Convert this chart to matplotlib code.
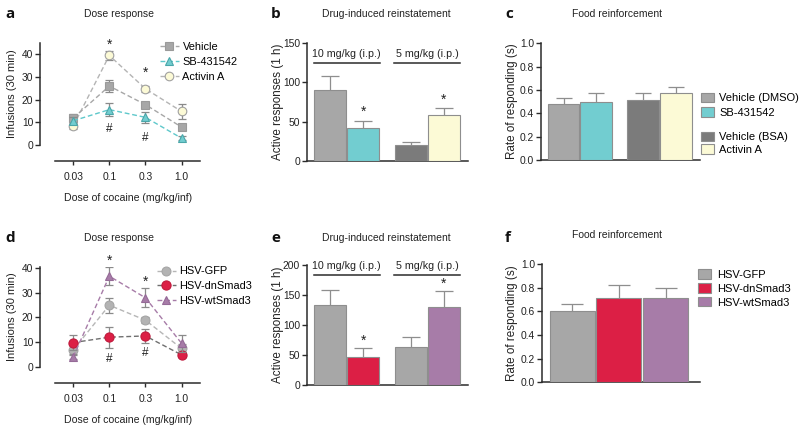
import matplotlib
matplotlib.use("Agg")
import matplotlib.pyplot as plt
from matplotlib.patches import Patch
import numpy as np

plt.rcParams['font.family'] = ['Liberation Sans', 'DejaVu Sans']

W, H = 800, 434

# ---------------- data ----------------
doses = ['0.03', '0.1', '0.3', '1.0']

# panel a
veh_a = [11.9, 26.0, 17.8, 7.9]
veh_a_err = [1.8, 2.7, 1.3, 1.0]
sb_a = [10.7, 15.6, 12.2, 3.0]
sb_a_err = [1.5, 3.0, 2.4, 0.8]
act_a = [8.4, 39.5, 24.8, 14.8]
act_a_err = [1.5, 2.0, 1.2, 3.5]
star_a = [44.4, 31.9]
hash_a = [7.0, 3.0]

# panel b
b_labels = ['Vehicle (DMSO)', 'SB-431542', 'Vehicle (BSA)', 'Activin A']
b_vals = [89.8, 41.5, 20.5, 58.8]
b_err = [18.5, 9.3, 3.5, 9.0]
b_star = [None, 62.0, None, 78.0]
b_groups = ['10 mg/kg (i.p.)', '5 mg/kg (i.p.)']

# panel c
c_vals = [0.48, 0.50, 0.51, 0.575]
c_err = [0.055, 0.07, 0.06, 0.048]

# panel d
gfp_d = [6.8, 25.0, 18.9, 7.4]
gfp_d_err = [2.0, 3.0, 1.3, 2.0]
dn_d = [9.8, 12.0, 12.5, 4.8]
dn_d_err = [3.0, 4.3, 3.0, 1.0]
wt_d = [4.0, 36.8, 28.0, 9.5]
wt_d_err = [1.0, 3.6, 3.8, 3.5]
star_d = [43.0, 34.7]
hash_d = [3.0, 5.7]

# panel e
e_vals = [133, 47, 64, 130]
e_err = [26, 14, 16, 27]
e_star = [None, 74, None, 168]

# panel f
f_labels = ['HSV-GFP', 'HSV-dnSmad3', 'HSV-wtSmad3']
f_vals = [0.603, 0.71, 0.71]
f_err = [0.06, 0.115, 0.09]

# ---------------- colours ----------------
GRAY = '#a7a7a7'
DGRAY = '#7b7b7b'
TEAL = '#72cdd0'
YEL = '#fcfad6'
RED = '#dc1f45'
PURP = '#a77ca8'
EDGE = '#8e8e8e'
SPINE = '#2b2b2b'
TXT = '#222222'

FS = 7.6      # general text
FT = 7.4      # tick labels

fig = plt.figure(figsize=(W / 100, H / 100), dpi=100)


def px_axes(l, t, r, b):
    return fig.add_axes([l / W, 1 - b / H, (r - l) / W, (b - t) / H])


def style(ax):
    for s in ['top', 'right']:
        ax.spines[s].set_visible(False)
    for s in ['left', 'bottom']:
        ax.spines[s].set_linewidth(1.1)
        ax.spines[s].set_color(SPINE)
    ax.tick_params(axis='both', direction='out', length=3.5, width=1.0,
                   color=SPINE, labelsize=FT, pad=1.2, labelcolor=TXT)


def ftext(x, y, s, **kw):
    fig.text(x / W, 1 - y / H, s, **kw)


# ---------------- line panels ----------------
def line_panel(box, ylim, series, stars, hashes, legend_anchor, lspace):
    ax = px_axes(*box)
    style(ax)
    x = np.arange(len(doses))
    for vals, errs, kw in series:
        ax.errorbar(x, vals, yerr=errs, fmt='none', ecolor='#8a8a8a',
                    elinewidth=0.9, capsize=3.2, capthick=0.9, zorder=kw['zorder'] - 0.5)
        ax.plot(x, vals, linestyle=(0, (3.5, 2)), lw=1.0, color=kw['lc'],
                marker=kw['m'], ms=kw['ms'], mfc=kw['fc'], mec=kw['ec'], mew=0.8,
                zorder=kw['zorder'], label=kw['label'])
    for xi, yv in zip([1, 2], stars):
        ax.text(xi, yv, '*', ha='center', va='center', fontsize=10, color=TXT)
    for xi, yv in zip([1, 2], hashes):
        ax.text(xi, yv, '#', ha='center', va='center', fontsize=8.5, color=TXT)
    ax.set_xlim(-0.92, 3.51)
    ax.set_ylim(*ylim)
    ax.spines['left'].set_bounds(0, min(ylim[1], 45))
    ax.spines['bottom'].set_bounds(-0.51, 3.51)
    ax.set_yticks([0, 10, 20, 30, 40])
    ax.set_xticks(x)
    ax.set_xticklabels(doses)
    ax.tick_params(axis='x', length=3, pad=5)
    handles, labels = ax.get_legend_handles_labels()
    order = sorted(range(len(series)), key=lambda i: series[i][2]['li'])
    ax.legend([handles[i] for i in order], [labels[i] for i in order],
              loc='upper left', bbox_to_anchor=(legend_anchor[0] / W, 1 - legend_anchor[1] / H),
              bbox_transform=fig.transFigure, frameon=False, fontsize=FS + 0.3,
              handlelength=1.7, handletextpad=0.35, labelspacing=lspace,
              borderpad=0, borderaxespad=0)
    return ax


line_panel((40, 43, 200, 161), (-7.06, 45.0), [
    (act_a, act_a_err, dict(lc='#b4b4b4', m='o', ms=6.2, fc=YEL, ec='#a0a0a0', zorder=3, label='Activin A', li=2)),
    (veh_a, veh_a_err, dict(lc=GRAY, m='s', ms=5.6, fc=GRAY, ec='#9a9a9a', zorder=4, label='Vehicle', li=0)),
    (sb_a, sb_a_err, dict(lc='#5ec8cb', m='^', ms=6.2, fc=TEAL, ec='#4aa6a9', zorder=5, label='SB-431542', li=1)),
], star_a, hash_a, (160, 41.5), 0.47)

line_panel((40, 266.7, 200, 383.3), (-6.75, 40.65), [
    (gfp_d, gfp_d_err, dict(lc='#b6b6b6', m='o', ms=6.4, fc='#b3b3b3', ec='#a5a5a5', zorder=3, label='HSV-GFP', li=0)),
    (dn_d, dn_d_err, dict(lc='#6f6f6f', m='o', ms=6.6, fc=RED, ec='#c01a3c', zorder=4, label='HSV-dnSmad3', li=1)),
    (wt_d, wt_d_err, dict(lc=PURP, m='^', ms=6.4, fc=PURP, ec='#956a97', zorder=5, label='HSV-wtSmad3', li=2)),
], star_d, hash_d, (157, 266.5), 0.42)


# ---------------- bar panels ----------------
def bar_panel(box, ylim, xpos, xlim, vals, errs, colors, capsize, width=0.97):
    ax = px_axes(*box)
    style(ax)
    ax.bar(xpos, vals, width=width, color=colors, edgecolor=EDGE, linewidth=0.8, zorder=3)
    eb = ax.errorbar(xpos, vals, yerr=[np.zeros(len(vals)), errs], fmt='none',
                     ecolor=EDGE, elinewidth=0.9, capsize=capsize, capthick=0.9, zorder=2)
    eb[1][0].set_visible(False)
    ax.set_xlim(*xlim)
    ax.set_ylim(*ylim)
    ax.set_xticks([])
    return ax


def group_lines(ax, pos, y_line, y_text):
    for (x0, x1), lab in zip([(pos[0] - 0.5, pos[1] + 0.5), (pos[2] - 0.5, pos[3] + 0.5)], b_groups):
        ax.plot([x0, x1], [y_line, y_line], color=SPINE, lw=1.1, clip_on=False)
        ax.text((x0 + x1) / 2, y_text, lab, ha='center', va='center', fontsize=FS + 0.1, color=TXT)


# b
bpos = [0, 1, 2.44, 3.44]
axb = bar_panel((306.7, 42.7, 468, 161), (0, 150), bpos, (-0.712, 4.17),
                b_vals, b_err, [GRAY, TEAL, DGRAY, YEL], 6.8)
axb.set_yticks([0, 50, 100, 150])
for xi, s in zip(bpos, b_star):
    if s is not None:
        axb.text(xi, s, '*', ha='center', va='center', fontsize=10, color=TXT)
group_lines(axb, bpos, 124, 136)

# e
axe = bar_panel((306.7, 265, 468, 385), (0, 200), bpos, (-0.712, 4.17),
                e_vals, e_err, [GRAY, RED, GRAY, PURP], 6.8)
axe.set_yticks([0, 50, 100, 150, 200])
for xi, s in zip(bpos, e_star):
    if s is not None:
        axe.text(xi, s, '*', ha='center', va='center', fontsize=10, color=TXT)
group_lines(axe, bpos, 184, 198)

# c
cpos = [0, 1, 2.42, 3.42]
cols_c = [GRAY, TEAL, DGRAY, YEL]
axc = bar_panel((540.5, 43.3, 700, 160), (0, 1), cpos, (-0.7, 4.15),
                c_vals, c_err, cols_c, 5.6)
axc.set_yticks([0, 0.2, 0.4, 0.6, 0.8, 1.0])
axc.set_yticklabels(['0.0', '0.2', '0.4', '0.6', '0.8', '1.0'])
leg_kw = dict(bbox_transform=fig.transFigure, frameon=False, fontsize=FS + 0.4,
              handlelength=1.2, handleheight=0.95, handletextpad=0.5,
              borderpad=0, borderaxespad=0, loc='upper left')
leg1 = axc.legend([Patch(facecolor=cols_c[i], edgecolor=EDGE, lw=0.8) for i in (0, 1)],
                  b_labels[:2], bbox_to_anchor=(700.5 / W, 1 - 92.5 / H), labelspacing=0.36, **leg_kw)
axc.add_artist(leg1)
axc.legend([Patch(facecolor=cols_c[i], edgecolor=EDGE, lw=0.8) for i in (2, 3)],
           b_labels[2:], bbox_to_anchor=(700.5 / W, 1 - 131.5 / H), labelspacing=0.2, **leg_kw)

# f
fpos = [0, 1, 2]
axf = bar_panel((541.5, 264, 700, 382.3), (0, 1), fpos, (-0.66, 2.74),
                f_vals, f_err, [GRAY, RED, PURP], 7.6)
axf.set_yticks([0, 0.2, 0.4, 0.6, 0.8, 1.0])
axf.set_yticklabels(['0.0', '0.2', '0.4', '0.6', '0.8', '1.0'])
axf.legend([Patch(facecolor=c, edgecolor=EDGE, lw=0.8) for c in [GRAY, RED, PURP]],
           f_labels, bbox_to_anchor=(698 / W, 1 - 269 / H), labelspacing=0.3, **leg_kw)

# ---------------- labels, titles ----------------
ftext(12, 94, 'Infusions (30 min)', fontsize=8.0, color=TXT, rotation=90, ha='center', va='center')
ftext(12, 316.5, 'Infusions (30 min)', fontsize=8.0, color=TXT, rotation=90, ha='center', va='center')
lab_kw = dict(fontsize=8.4, color=TXT, rotation=90, ha='center', va='center')
ftext(278, 101.8, 'Active responses (1 h)', **lab_kw)
ftext(278, 325, 'Active responses (1 h)', **lab_kw)
ftext(512, 101.6, 'Rate of responding (s)', **lab_kw)
ftext(512, 323, 'Rate of responding (s)', **lab_kw)

ftext(128, 198, 'Dose of cocaine (mg/kg/inf)', fontsize=FS, color=TXT, ha='center', va='center')
ftext(128, 420, 'Dose of cocaine (mg/kg/inf)', fontsize=FS, color=TXT, ha='center', va='center')

t_kw = dict(fontsize=FS - 0.1, color=TXT, ha='center', va='center')
ftext(119, 14, 'Dose response', **t_kw)
ftext(386, 14, 'Drug-induced reinstatement', **t_kw)
ftext(617, 14, 'Food reinforcement', **t_kw)
ftext(119, 238, 'Dose response', **t_kw)
ftext(386, 238, 'Drug-induced reinstatement', **t_kw)
ftext(617, 235, 'Food reinforcement', **t_kw)

p_kw = dict(fontsize=11, fontweight='bold', color='#111111', ha='left', va='center',
            family=['Open Sans', 'DejaVu Sans'])
ftext(5, 14, 'a', **p_kw)
ftext(271, 14, 'b', **p_kw)
ftext(505, 14, 'c', **p_kw)
ftext(5, 238, 'd', **p_kw)
ftext(271, 238, 'e', **p_kw)
ftext(505, 238, 'f', **p_kw)

fig.savefig('out.png', dpi=100)
